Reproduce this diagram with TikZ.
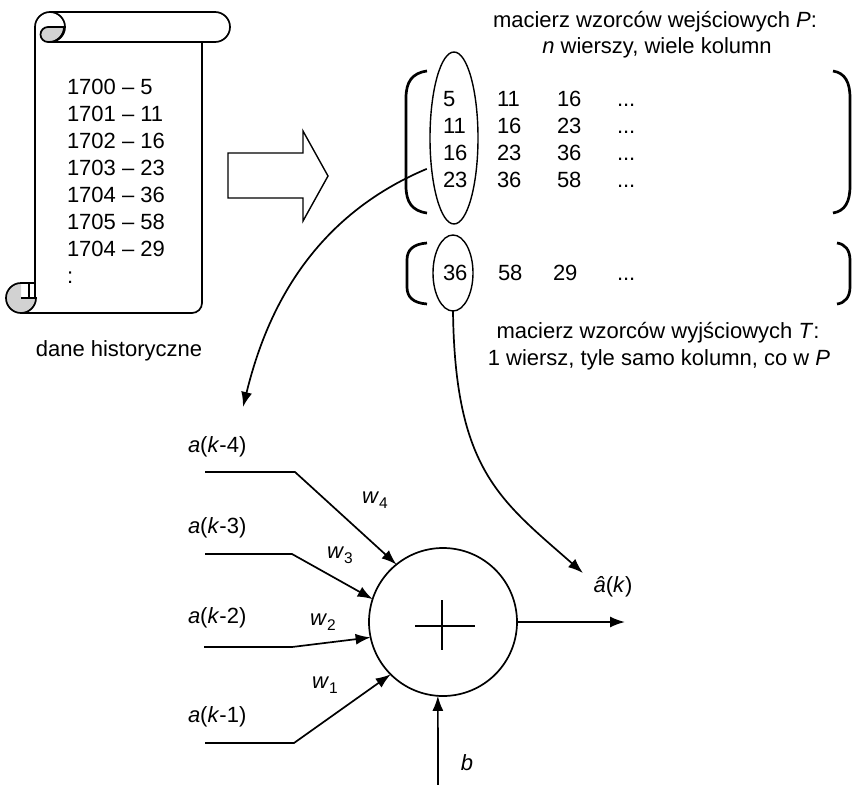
\documentclass[tikz,border=0pt]{standalone}
\usepackage{fontspec}
\setmainfont{Liberation Sans}
\usetikzlibrary{arrows.meta,shapes.geometric}
\newcommand\wlab[1]{\textit{w}\raisebox{-0.45ex}{\fontsize{15.5}{15.5}\selectfont #1}}
\begin{document}
\begin{tikzpicture}[x=1pt,y=-1pt,
  every node/.style={font=\fontsize{22}{27}\selectfont, inner sep=0pt, outer sep=0pt},
  ln/.style={line width=1.7pt},
  thinln/.style={line width=1.4pt},
  arr/.style={line width=1.7pt, -{Latex[length=15pt,width=11pt]}},
  brk/.style={line width=2.7pt},
  num/.style={anchor=base west},
  lbl/.style={anchor=center},
  ]
\fill[white] (0,0) rectangle (852,785);
\useasboundingbox (0,0) rectangle (852,785);

% ---------- scroll ----------
\draw[ln, line join=round] (35,298) -- (35,27) arc[start angle=180, end angle=450, radius=15];
\draw[ln] (49,12) -- (215,12) arc[start angle=270, end angle=450, radius=15] -- (49,42);
\filldraw[ln, fill=gray!35] (64,27) -- (48,27) arc[start angle=270, end angle=90, radius=7.5]
   -- (49,42) arc[start angle=90, end angle=0, radius=15];
\draw[ln] (202,42) -- (202,303) arc[start angle=0, end angle=90, radius=10] -- (21,313);
\filldraw[ln, fill=gray!35] (21,298) -- (36,298) arc[start angle=0, end angle=270, radius=15];
\draw[ln] (21,283) -- (35,283);
\draw[ln] (29,283) -- (29,298);

\node[num] (y0) at (67,94) {1700 – 5};
\node[num] (y1) at (67,121) {1701 – 11};
\node[num] (y2) at (67,148) {1702 – 16};
\node[num] (y3) at (67,175) {1703 – 23};
\node[num] (y4) at (67,202) {1704 – 36};
\node[num] (y5) at (67,229) {1705 – 58};
\node[num] (y6) at (67,256) {1704 – 29};
\node[num] (y7) at (67,283) {:};
\node[anchor=base] (hist) at (119,356) {dane historyczne};

% ---------- block arrow ----------
\draw[thinln, line join=miter] (228,153) -- (303,153) -- (303,131) -- (328,176) -- (303,221)
   -- (303,198) -- (228,198) -- cycle;

% ---------- matrix P ----------
\node[anchor=base] (tP1) at (655,27) {macierz wzorców wejściowych \textit{P}:};
\node[anchor=base] (tP2) at (657,53) {\textit{n} wierszy, wiele kolumn};
\draw[brk] (427,71) .. controls (412,73) and (406,82) .. (406,98) -- (406,186)
   .. controls (406,202) and (412,211) .. (427,213);
\draw[brk] (833,71) .. controls (845,73) and (850,82) .. (850,98) -- (850,186)
   .. controls (850,202) and (845,211) .. (833,213);
\node[num] (p11) at (443,106) {5};
\node[num] (p21) at (443,133) {11};
\node[num] (p31) at (443,160) {16};
\node[num] (p41) at (443,187) {23};
\node[num] (p12) at (497,106) {11};
\node[num] (p22) at (497,133) {16};
\node[num] (p32) at (497,160) {23};
\node[num] (p42) at (497,187) {36};
\node[num] (p13) at (557,106) {16};
\node[num] (p23) at (557,133) {23};
\node[num] (p33) at (557,160) {36};
\node[num] (p43) at (557,187) {58};
\node[num] (p14) at (617,106) {...};
\node[num] (p24) at (617,133) {...};
\node[num] (p34) at (617,160) {...};
\node[num] (p44) at (617,187) {...};
\node[draw, ellipse, thinln, minimum width=48pt, minimum height=172pt] (ellP) at (454,138) {};

% ---------- matrix T ----------
\draw[brk] (427,243) .. controls (413,244) and (407,250) .. (407,260) -- (407,287)
   .. controls (407,297) and (413,303) .. (427,304);
\draw[brk] (837,243) .. controls (845,244) and (850,250) .. (850,260) -- (850,287)
   .. controls (850,297) and (845,303) .. (837,304);
\node[num] (t1) at (443,280) {36};
\node[num] (t2) at (498,280) {58};
\node[num] (t3) at (553,280) {29};
\node[num] (t4) at (617,280) {...};
\node[draw, ellipse, thinln, minimum width=40pt, minimum height=76pt] (ellT) at (453,273) {};
\node[anchor=base] (tT1) at (658,338) {macierz wzorców wyjściowych \textit{T}:};
\node[anchor=base] (tT2) at (659,365) {1 wiersz, tyle samo kolumn, co w \textit{P}};

% ---------- neuron ----------
\node[draw, circle, ln, minimum size=148pt] (sum) at (443,622) {};
\draw[thinln] (415,626) -- (475,626);
\draw[thinln] (442,600) -- (442,650);

\coordinate (s4) at (205,472);
\coordinate (s3) at (205,554);
\coordinate (s2) at (204,647);
\coordinate (s1) at (205,743);
\draw[arr] (s4) -- (295,472) -- (sum.129);
\draw[arr] (s3) -- (292,554) -- (sum.162);
\draw[arr] (s2) -- (292,647) -- (sum.192);
\draw[arr] (s1) -- (294,743) -- (sum.225);

\node[anchor=west] (lk4) at (188,447) {\textit{a}(\textit{k}-4)};
\node[anchor=west] (lk3) at (188,528) {\textit{a}(\textit{k}-3)};
\node[anchor=west] (lk2) at (188,618) {\textit{a}(\textit{k}-2)};
\node[anchor=west] (lk1) at (188,717) {\textit{a}(\textit{k}-1)};

\node[lbl] (w4) at (375,500) {\wlab{4}};
\node[lbl] (w3) at (340,555) {\wlab{3}};
\node[lbl] (w2) at (323,622) {\wlab{2}};
\node[lbl] (w1) at (325,685) {\wlab{1}};

\coordinate (outp) at (625,622);
\draw[arr] (sum.east) -- (outp);
\node[lbl] (ahat) at (613,587) {\textit{â}(\textit{k})};

\coordinate (bb) at (438,785);
\draw[arr] (bb) -- (sum.266);
\node[lbl] (blab) at (467,763) {\textit{b}};

% ---------- curved connectors ----------
\coordinate (toIn) at (243,407);
\coordinate (toOut) at (583,573);
\draw[arr, shorten <=5pt] (ellP.232) .. controls (300,222) and (262,330) .. (toIn);
\draw[arr] (ellT.south) .. controls (455,470) and (500,500) .. (toOut);
\end{tikzpicture}
\end{document}
